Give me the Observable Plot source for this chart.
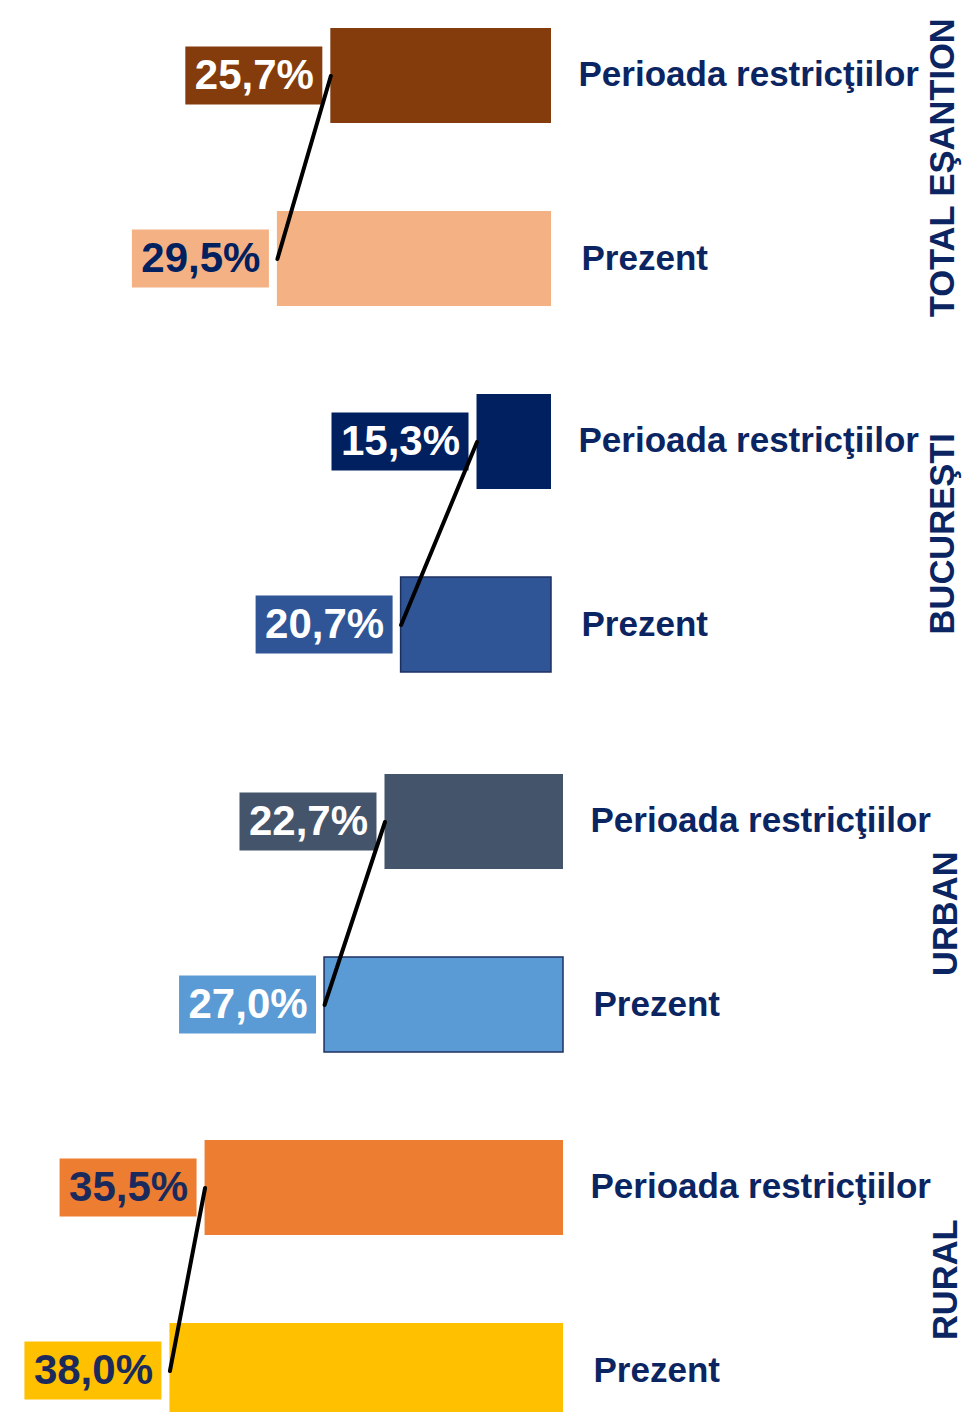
<!DOCTYPE html>
<html><head><meta charset="utf-8">
<script src="https://cdn.jsdelivr.net/npm/d3@7"></script>
<script src="https://cdn.jsdelivr.net/npm/@observablehq/plot@0.6"></script>
<style>html,body{margin:0;padding:0;background:#fff;} svg{display:block}</style>
</head><body><div id="chart"></div>
<script>
// ---- data ----
const groups = ["TOTAL EŞANTION", "BUCUREŞTI", "URBAN", "RURAL"];
const periods = ["Perioada restricţiilor", "Prezent"];
const restrictii = [25.7, 15.3, 22.7, 35.5];
const prezent = [29.5, 20.7, 27.0, 38.0];
const labelsRestrictii = ["25,7%", "15,3%", "22,7%", "35,5%"];
const labelsPrezent = ["29,5%", "20,7%", "27,0%", "38,0%"];
const baseline = 10;

// ---- palette ----
const fillRestrictii = ["#843C0C", "#002060", "#44546A", "#ED7D31"];
const fillPrezent = ["#F4B183", "#2F5597", "#5B9BD5", "#FFC000"];
const strokeRestrictii = ["none", "none", "none", "none"];
const strokePrezent = ["none", "#1c3060", "#1c3060", "none"];
const textRestrictii = ["#ffffff", "#ffffff", "#ffffff", "#1b2a5c"];
const textPrezent = ["#002060", "#ffffff", "#ffffff", "#1b2a5c"];
const navy = "#0b2563";

const rows = groups.flatMap((g, i) => [
  {group: g, gi: i, period: periods[0], row: g + "|" + periods[0], value: restrictii[i], label: labelsRestrictii[i], fill: fillRestrictii[i], stroke: strokeRestrictii[i], tcolor: textRestrictii[i]},
  {group: g, gi: i, period: periods[1], row: g + "|" + periods[1], value: prezent[i], label: labelsPrezent[i], fill: fillPrezent[i], stroke: strokePrezent[i], tcolor: textPrezent[i]}
]);

const font = "'Liberation Sans', Arial, sans-serif";

function setMarks(sub, dx, dy, gdx) {
  const first = sub.filter(d => d.period === periods[0]);
  const second = sub.filter(d => d.period === periods[1]);
  return [
    Plot.barX(sub, {x1: "value", x2: "value", y: "row", fill: "fill", insetLeft: -145, insetRight: 8, insetTop: 18.5, insetBottom: 18.5, dx, dy}),
    Plot.barX(sub, {x1: baseline, x2: "value", y: "row", fill: "fill", stroke: "stroke", strokeWidth: 1.5, dx, dy}),
    Plot.text(sub, {x: "value", y: "row", text: "label", fill: "tcolor", fontSize: 42, fontWeight: "bold", textAnchor: "middle", dx: dx - 76.5, dy}),
    Plot.text(first, {x: baseline, y: "row", text: "period", fill: navy, fontSize: 35, fontWeight: "bold", textAnchor: "start", dx: dx + 27, dy: dy - 1}),
    Plot.text(second, {x: baseline, y: "row", text: "period", fill: navy, fontSize: 35, fontWeight: "bold", textAnchor: "start", dx: dx + 30, dy}),
    Plot.line(sub, {x: "value", y: "row", z: "group", stroke: "#000", strokeWidth: 4, dx, dy}),
    Plot.text(first, {y: "row", text: "group", frameAnchor: "right", rotate: -90, fill: navy, fontSize: 34.5, fontWeight: "bold", textAnchor: "middle", dx: gdx, dy: dy + 91.75})
  ];
}

const chart = Plot.plot({
  width: 964,
  height: 1412,
  margin: 0,
  style: {fontFamily: font, background: "#fff", overflow: "hidden"},
  x: {domain: [baseline, 49.2], range: [551, 0], axis: null},
  y: {domain: rows.map(d => d.row), range: [26, 1405.5], paddingInner: 0.4823, paddingOuter: 0, axis: null},
  color: {type: "identity"},
  marks: [
    ...setMarks(rows.filter(d => d.gi < 2), 0, 0, -22),
    ...setMarks(rows.filter(d => d.gi >= 2), 12, 14, -19)
  ]
});
document.getElementById("chart").appendChild(chart);
</script>
</body></html>
